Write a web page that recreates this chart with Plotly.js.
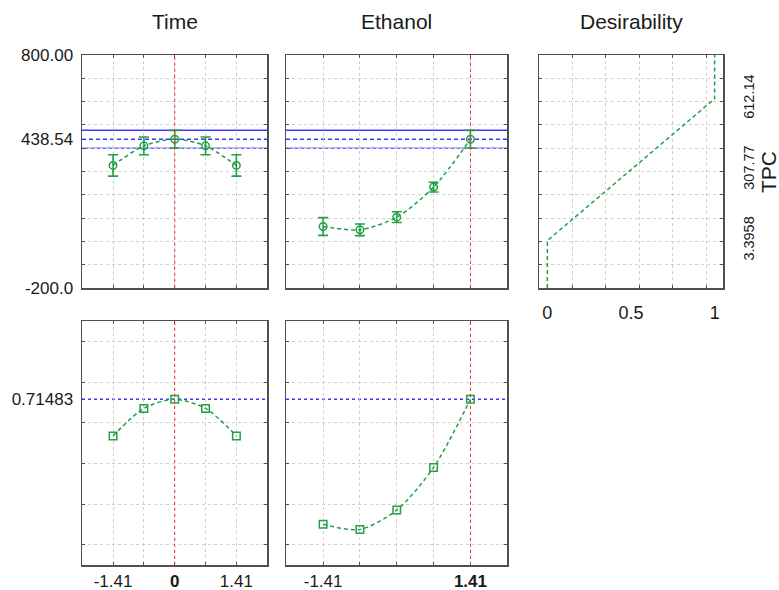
<!DOCTYPE html>
<html>
<head>
<meta charset="utf-8">
<script src="https://cdn.plot.ly/plotly-3.0.1.min.js"></script>
<style>
  html, body { margin: 0; padding: 0; background: #ffffff; }
  #chart { width: 779px; height: 590px; }
</style>
</head>
<body>
<div id="chart"></div>
<script>
// ---- data ----
const levels = [-1.41, -0.705, 0, 0.705, 1.41];
const timeTPC = [326, 410, 438.54, 410, 326];
const timeTPCErr = [46, 38, 38, 38, 46];
const ethanolTPC = [64, 50, 104, 233, 438.54];
const ethanolTPCErr = [38, 25, 23, 21, 38];
const timeDes = [0.535, 0.67, 0.71483, 0.67, 0.535];
const ethanolDes = [0.10, 0.075, 0.17, 0.38, 0.71483];
const desCurveD = [0, 0, 1, 1];
const desCurveTPC = [-200, 3.3958, 612.14, 800];
const predictedTPC = 438.54;
const ciLowTPC = 400;
const ciHighTPC = 477;
const predictedDes = 0.71483;
const optTime = 0;
const optEthanol = 1.41;

const panelTitles = ["Time", "Ethanol", "Desirability"];
const responseName = "TPC";
const tpcTickVals = [800, predictedTPC, -200];
const tpcTickText = ["800.00", "438.54", "-200.0"];
const tpcGridVals = [-100, 0, 100, 200, 300, 400, 500, 600, 700];
const desTpcTickVals = [3.3958, 307.77, 612.14];
const desTpcTickText = ["3.3958", "307.77", "612.14"];
const desGridVals = [0, 0.2, 0.4, 0.6, 0.8, 1.0];
const desTickVals = [predictedDes];
const desTickText = ["0.71483"];
const timeTickVals = [-1.41, 0, 1.41];
const timeTickText = ["-1.41", "<b>0</b>", "1.41"];
const ethanolTickVals = [-1.41, 1.41];
const ethanolTickText = ["-1.41", "<b>1.41</b>"];
const dTickVals = [0, 0.5, 1];
const dTickText = ["0", "0.5", "1"];
const dGridVals = [0.15, 0.35, 0.55, 0.75, 0.95];

// ---- styles ----
const W = 779, H = 590;
const green = "#21a047";
const blue = "#3a3aff";
const blueLight = "#6f6fff";
const red = "#ff3030";
const gridColor = "#cfcfcf";
const frameColor = "#505050";
const textColor = "#1a1a1a";
const font = "Liberation Sans, Arial, sans-serif";

function px2x(a, b) { return [a / W, b / W]; }
function px2y(top, bottom) { return [(H - bottom) / H, (H - top) / H]; }

const dTime = px2x(82, 267);
const dEth = px2x(286, 507);
const dDes = px2x(539, 723);
const dTop = px2y(55, 288);
const dBot = px2y(321, 565);

function baseAxis(extra) {
  return Object.assign({
    showline: true, mirror: "allticks", linecolor: frameColor, linewidth: 1.5,
    zeroline: false, showgrid: false, ticks: "", fixedrange: true,
    tickfont: { family: font, size: 17, color: textColor }
  }, extra);
}
function minorGrid(vals) {
  return { tickmode: "array", tickvals: vals, showgrid: true, gridcolor: gridColor,
           gridwidth: 1, griddash: "dot", ticks: "inside", ticklen: 3,
           tickcolor: frameColor, tickwidth: 1 };
}

const factorRange = [-2.12, 2.11];

const layout = {
  width: W, height: H,
  margin: { l: 0, r: 0, t: 0, b: 0 },
  paper_bgcolor: "#ffffff", plot_bgcolor: "#ffffff",
  showlegend: false,
  font: { family: font, color: textColor },
  // top row x axes
  xaxis: baseAxis({ domain: dTime, anchor: "y", range: factorRange, tickmode: "array",
    tickvals: timeTickVals, ticktext: timeTickText, showticklabels: false, minor: minorGrid(levels) }),
  xaxis2: baseAxis({ domain: dEth, anchor: "y2", range: factorRange, tickmode: "array",
    tickvals: ethanolTickVals, ticktext: ethanolTickText, showticklabels: false, minor: minorGrid(levels) }),
  xaxis3: baseAxis({ domain: dDes, anchor: "y3", range: [-0.05, 1.05], tickmode: "array",
    tickvals: dTickVals, ticktext: dTickText, ticklabelstandoff: 8,
    tickfont: { family: font, size: 18, color: textColor }, minor: minorGrid(dGridVals) }),
  // bottom row x axes
  xaxis4: baseAxis({ domain: dTime, anchor: "y4", range: factorRange, tickmode: "array",
    tickvals: timeTickVals, ticktext: timeTickText, ticklabelstandoff: 0, minor: minorGrid(levels) }),
  xaxis5: baseAxis({ domain: dEth, anchor: "y5", range: factorRange, tickmode: "array",
    tickvals: ethanolTickVals, ticktext: ethanolTickText, ticklabelstandoff: 0, minor: minorGrid(levels) }),
  // y axes
  yaxis: baseAxis({ domain: dTop, anchor: "x", range: [-200, 800], tickmode: "array",
    tickvals: tpcTickVals, ticktext: tpcTickText, ticklabelstandoff: 4, minor: minorGrid(tpcGridVals) }),
  yaxis2: baseAxis({ domain: dTop, anchor: "x2", range: [-200, 800], tickmode: "array",
    tickvals: tpcTickVals, showticklabels: false, minor: minorGrid(tpcGridVals) }),
  yaxis3: baseAxis({ domain: dTop, anchor: "x3", side: "right", range: [-200, 800], tickmode: "array",
    tickvals: desTpcTickVals, ticktext: desTpcTickText, tickangle: -90, ticklabelstandoff: 12,
    tickfont: { family: font, size: 14.5, color: textColor }, minor: minorGrid(tpcGridVals) }),
  yaxis4: baseAxis({ domain: dBot, anchor: "x4", range: [-0.1, 1.1], tickmode: "array",
    tickvals: desTickVals, ticktext: desTickText, ticklabelstandoff: 4, minor: minorGrid(desGridVals) }),
  yaxis5: baseAxis({ domain: dBot, anchor: "x5", range: [-0.1, 1.1], tickmode: "array",
    tickvals: desTickVals, showticklabels: false, minor: minorGrid(desGridVals) }),
  shapes: [],
  annotations: []
};

// reference lines
function vline(xref, yref, x) {
  return { type: "line", xref: xref, yref: yref + " domain", x0: x, x1: x, y0: 0, y1: 1,
           line: { color: red, width: 1, dash: "dot" }, layer: "above" };
}
function hline(xref, yref, y, dash, width, color) {
  return { type: "line", xref: xref + " domain", yref: yref, x0: 0, x1: 1, y0: y, y1: y,
           line: { color: color, width: width, dash: dash }, layer: "below" };
}
layout.shapes.push(
  vline("x", "y", optTime), vline("x4", "y4", optTime),
  vline("x2", "y2", optEthanol), vline("x5", "y5", optEthanol),
  hline("x", "y", ciHighTPC, "solid", 1.5, blue), hline("x", "y", ciLowTPC, "solid", 1.5, blueLight),
  hline("x", "y", predictedTPC, "4px,3px", 1.5, blue),
  hline("x2", "y2", ciHighTPC, "solid", 1.5, blue), hline("x2", "y2", ciLowTPC, "solid", 1.5, blueLight),
  hline("x2", "y2", predictedTPC, "4px,3px", 1.5, blue),
  hline("x4", "y4", predictedDes, "3px,3px", 1.5, blue),
  hline("x5", "y5", predictedDes, "3px,3px", 1.5, blue)
);

// titles
const titleXrefs = ["x", "x2", "x3"];
panelTitles.forEach((t, i) => {
  layout.annotations.push({ text: t, xref: titleXrefs[i] + " domain", x: 0.5, yref: "paper",
    y: (H - 22) / H, showarrow: false, xanchor: "center", yanchor: "middle",
    font: { family: font, size: 21, color: textColor } });
});
layout.annotations.push({ text: responseName, xref: "paper", x: 769 / W, yref: "paper",
  y: (H - 172) / H, showarrow: false, textangle: -90, xanchor: "center", yanchor: "middle",
  font: { family: font, size: 21, color: textColor } });

const curveLine = { color: green, width: 1.5, dash: "4px,3px", shape: "spline", smoothing: 0.8 };
function errTrace(x, y, err, xa, ya) {
  return { type: "scatter", mode: "lines+markers", x: x, y: y, xaxis: xa, yaxis: ya,
    line: curveLine, cliponaxis: false,
    marker: { symbol: "circle-open", size: 7.5, color: green, line: { width: 1.5, color: green } },
    error_y: { type: "data", array: err, visible: true, color: green, thickness: 1.6, width: 5 },
    hoverinfo: "skip" };
}
function desTrace(x, y, xa, ya) {
  return { type: "scatter", mode: "lines+markers", x: x, y: y, xaxis: xa, yaxis: ya,
    line: curveLine, cliponaxis: false,
    marker: { symbol: "square-open", size: 7.5, color: green, line: { width: 1.5, color: green } },
    hoverinfo: "skip" };
}

const data = [
  errTrace(levels, timeTPC, timeTPCErr, "x", "y"),
  errTrace(levels, ethanolTPC, ethanolTPCErr, "x2", "y2"),
  { type: "scatter", mode: "lines", x: desCurveD, y: desCurveTPC, xaxis: "x3", yaxis: "y3",
    line: { color: green, width: 1.5, dash: "4px,3px" }, hoverinfo: "skip" },
  desTrace(levels, timeDes, "x4", "y4"),
  desTrace(levels, ethanolDes, "x5", "y5")
];

Plotly.newPlot("chart", data, layout, { staticPlot: true, displayModeBar: false });
</script>
</body>
</html>
